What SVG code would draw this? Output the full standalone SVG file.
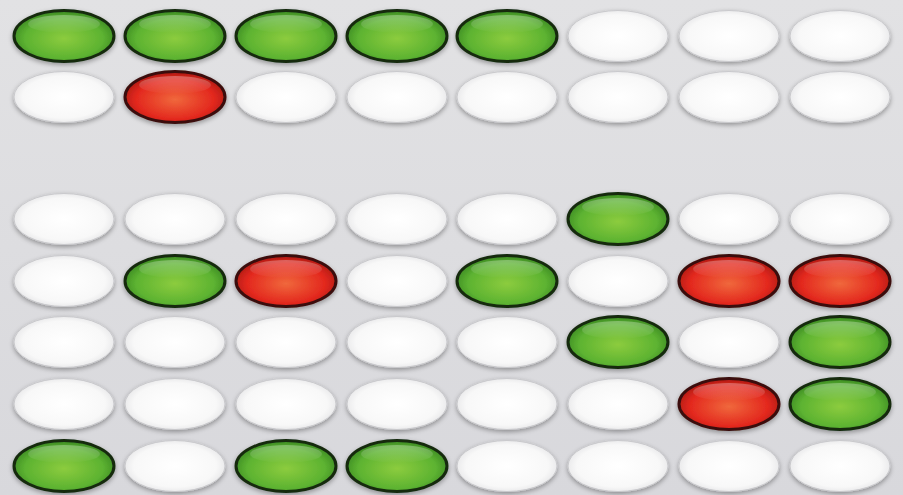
<svg xmlns="http://www.w3.org/2000/svg" width="903" height="495" viewBox="0 0 903 495">
<defs>
<linearGradient id="bg" x1="0" y1="0" x2="0" y2="1">
<stop offset="0" stop-color="#e2e2e4"/><stop offset="1" stop-color="#d8d8dc"/>
</linearGradient>
<radialGradient id="gG" cx="0.5" cy="0.55" r="0.6">
<stop offset="0" stop-color="#8ccc3e"/><stop offset="0.65" stop-color="#5db331"/><stop offset="1" stop-color="#2f7a1e"/>
</radialGradient>
<radialGradient id="gR" cx="0.5" cy="0.55" r="0.6">
<stop offset="0" stop-color="#f0683c"/><stop offset="0.65" stop-color="#e3281e"/><stop offset="1" stop-color="#9a1510"/>
</radialGradient>
<radialGradient id="gW" cx="0.5" cy="0.5" r="0.55">
<stop offset="0" stop-color="#ffffff"/><stop offset="0.75" stop-color="#f8f8f8"/><stop offset="1" stop-color="#e4e4e6"/>
</radialGradient>
<linearGradient id="hl" x1="0" y1="0" x2="0" y2="1">
<stop offset="0" stop-color="#ffffff" stop-opacity="0.3"/><stop offset="1" stop-color="#ffffff" stop-opacity="0"/>
</linearGradient>
<filter id="sh" x="-20%" y="-30%" width="140%" height="160%">
<feGaussianBlur in="SourceAlpha" stdDeviation="2.5"/>
<feOffset dx="0" dy="1.5"/>
<feComponentTransfer><feFuncA type="linear" slope="0.35"/></feComponentTransfer>
<feMerge><feMergeNode/><feMergeNode in="SourceGraphic"/></feMerge>
</filter>
<g id="W"><ellipse rx="50" ry="25.5" fill="url(#gW)" stroke="#c9c9cc" stroke-width="1" filter="url(#sh)"/></g>
<g id="G"><ellipse rx="50" ry="25.5" fill="url(#gG)" stroke="#142a10" stroke-width="3" filter="url(#sh)"/><ellipse cx="0" cy="-12" rx="36" ry="9" fill="url(#hl)"/></g>
<g id="R"><ellipse rx="50" ry="25.5" fill="url(#gR)" stroke="#3a0e0a" stroke-width="3" filter="url(#sh)"/><ellipse cx="0" cy="-12" rx="36" ry="9" fill="url(#hl)"/></g>
</defs>
<rect width="903" height="495" fill="url(#bg)"/>
<g id="row0" transform="translate(0,36)">
<use href="#G" x="64"/><use href="#G" x="175"/><use href="#G" x="286"/><use href="#G" x="397"/><use href="#G" x="507"/><use href="#W" x="618"/><use href="#W" x="729"/><use href="#W" x="840"/>
</g>
<g id="row1" transform="translate(0,97)">
<use href="#W" x="64"/><use href="#R" x="175"/><use href="#W" x="286"/><use href="#W" x="397"/><use href="#W" x="507"/><use href="#W" x="618"/><use href="#W" x="729"/><use href="#W" x="840"/>
</g>
<g id="row2" transform="translate(0,219)">
<use href="#W" x="64"/><use href="#W" x="175"/><use href="#W" x="286"/><use href="#W" x="397"/><use href="#W" x="507"/><use href="#G" x="618"/><use href="#W" x="729"/><use href="#W" x="840"/>
</g>
<g id="row3" transform="translate(0,281)">
<use href="#W" x="64"/><use href="#G" x="175"/><use href="#R" x="286"/><use href="#W" x="397"/><use href="#G" x="507"/><use href="#W" x="618"/><use href="#R" x="729"/><use href="#R" x="840"/>
</g>
<g id="row4" transform="translate(0,342)">
<use href="#W" x="64"/><use href="#W" x="175"/><use href="#W" x="286"/><use href="#W" x="397"/><use href="#W" x="507"/><use href="#G" x="618"/><use href="#W" x="729"/><use href="#G" x="840"/>
</g>
<g id="row5" transform="translate(0,404)">
<use href="#W" x="64"/><use href="#W" x="175"/><use href="#W" x="286"/><use href="#W" x="397"/><use href="#W" x="507"/><use href="#W" x="618"/><use href="#R" x="729"/><use href="#G" x="840"/>
</g>
<g id="row6" transform="translate(0,466)">
<use href="#G" x="64"/><use href="#W" x="175"/><use href="#G" x="286"/><use href="#G" x="397"/><use href="#W" x="507"/><use href="#W" x="618"/><use href="#W" x="729"/><use href="#W" x="840"/>
</g>
</svg>
